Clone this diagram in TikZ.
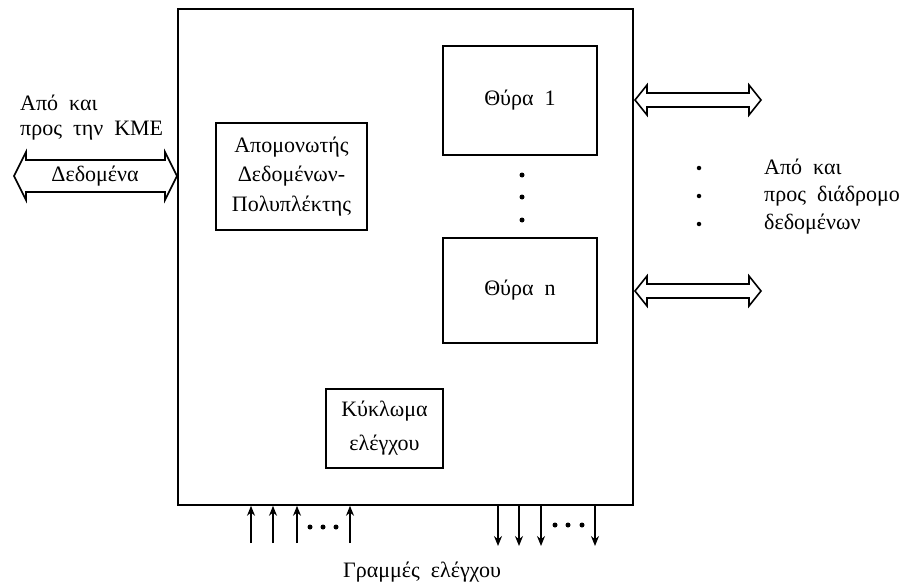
\documentclass[tikz,border=0pt]{standalone}
\usepackage{fontspec}
\setmainfont{Liberation Serif}
\usetikzlibrary{arrows.meta}
\begin{document}
\begin{tikzpicture}[x=1pt,y=-1pt,
  every node/.style={font=\fontsize{22}{26}\selectfont},
  label/.style={inner sep=0pt},
  outer/.style={draw, line width=1.6pt},
  unit/.style={draw, line width=2.6pt, inner sep=0pt},
  fat/.style={draw, line width=1.6pt, line join=miter, fill=white},
  ctrl/.style={line width=1.4pt, -{Stealth[length=10pt,width=8pt]}},
  dot/.style={circle, fill, inner sep=0pt, minimum size=5pt}]
\useasboundingbox (0,0) rectangle (910,586);

% interface enclosure
\node[outer, minimum width=455pt, minimum height=496pt, inner sep=0pt] (box) at (405.5,257) {};

% internal units
\node[unit, minimum width=151pt, minimum height=107pt, align=center,
      font=\fontsize{22}{29.5}\selectfont] (buf) at (291.5,176.5)
  {Απομονωτής\\Δεδομένων-\\Πολυπλέκτης};
\node[unit, minimum width=154pt, minimum height=109pt] (p1) at (520,100.5) {Θύρα \ 1};
\node[unit, minimum width=154pt, minimum height=105pt] (pn) at (520,290.5) {Θύρα \ n};
\node[unit, minimum width=117pt, minimum height=79pt, align=center,
      font=\fontsize{22}{34}\selectfont] (ctl) at (384.5,428.5) {Κύκλωμα\\ελέγχου};

% ports continue between 1 and n
\node[dot] (d1) at (522,175) {};
\node[dot] (d2) at (522,197) {};
\node[dot] (d3) at (522,220) {};

% data bus to and from the CPU
\draw[fat] (14,176) -- (26,152) -- (26,160) -- (165,160) -- (165,152) -- (177,176)
  -- (165,200) -- (165,192) -- (26,192) -- (26,200) -- cycle;
\node[label] (data) at (95,176) {Δεδομένα};
\node[label, anchor=west] (cpu1) at (20,103) {Από \ και};
\node[label, anchor=west] (cpu2) at (20,131) {προς \ την \ ΚΜΕ};

% peripheral data paths
\draw[fat] (635,100) -- (647,85) -- (647,93) -- (749,93) -- (749,85) -- (761,100)
  -- (749,115) -- (749,107) -- (647,107) -- (647,115) -- cycle;
\draw[fat] (635,291) -- (647,276) -- (647,284) -- (749,284) -- (749,276) -- (761,291)
  -- (749,306) -- (749,298) -- (647,298) -- (647,306) -- cycle;
\node[dot, minimum size=4.5pt] (r1) at (699,168) {};
\node[dot, minimum size=4.5pt] (r2) at (699,196) {};
\node[dot, minimum size=4.5pt] (r3) at (699,224) {};
\node[label, anchor=west] (bus1) at (764,167) {Από \ και};
\node[label, anchor=west] (bus2) at (764,196) {προς \ διάδρομο};
\node[label, anchor=west] (bus3) at (764,224) {δεδομένων};

% control lines
\foreach \x [count=\i] in {251,273,297,350} {
  \coordinate (ci\i) at (\x,543);
  \draw[ctrl] (ci\i) -- (ci\i |- box.south);
}
\foreach \x [count=\i] in {498,519,541,595} {
  \coordinate (co\i) at (\x,546);
  \draw[ctrl] (co\i |- box.south) -- (co\i);
}
\foreach \x in {310,323,336} \node[dot, minimum size=5pt] at (\x,527) {};
\foreach \x in {555,568,582} \node[dot, minimum size=5pt] at (\x,525) {};
\node[label] (lines) at (422,572) {Γραμμές \ ελέγχου};
\end{tikzpicture}
\end{document}
